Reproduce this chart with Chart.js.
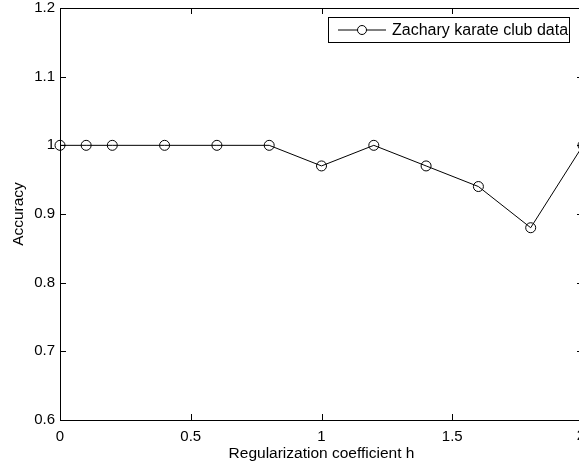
<!DOCTYPE html>
<html lang="en">
<head>
  <meta charset="UTF-8" />
  <title>Accuracy vs regularization coefficient</title>
  <script src="https://cdn.jsdelivr.net/npm/chart.js"></script>
  <style>
    html, body { margin: 0; padding: 0; background: #fff; overflow: hidden; }
    #wrap { width: 579px; height: 468px; overflow: hidden; position: relative; }
    #plot { position: absolute; left: 0; top: 0; }
  </style>
</head>
<body>
<div id="wrap">
  <canvas id="plot" width="590" height="468"></canvas>
</div>
<script>
  // data
  const hValues = [0, 0.1, 0.2, 0.4, 0.6, 0.8, 1.0, 1.2, 1.4, 1.6, 1.8, 2.0];
  const accuracy = [1, 1, 1, 1, 1, 1, 0.97, 1, 0.97, 0.94, 0.88, 1];
  const xTicks = [0, 0.5, 1, 1.5, 2];
  const yTicks = [0.6, 0.7, 0.8, 0.9, 1, 1.1, 1.2];
  const seriesName = "Zachary karate club data";

  const FONT = "'Liberation Sans', Arial, Helvetica, sans-serif";

  // box + inward ticks + legend, MATLAB style
  const matlabFrame = {
    id: "matlabFrame",
    afterDraw(chart) {
      const { ctx, chartArea: a, scales } = chart;
      const x = scales.x, y = scales.y;
      const tl = 6;
      ctx.save();
      ctx.strokeStyle = "#000";
      ctx.lineWidth = 1;
      ctx.beginPath();
      ctx.rect(Math.round(a.left) + 0.5, Math.round(a.top) + 0.5,
               Math.round(a.right - a.left), Math.round(a.bottom - a.top));
      xTicks.forEach(v => {
        const px = Math.round(x.getPixelForValue(v)) + 0.5;
        ctx.moveTo(px, a.bottom); ctx.lineTo(px, a.bottom - tl);
        ctx.moveTo(px, a.top); ctx.lineTo(px, a.top + tl);
      });
      yTicks.forEach(v => {
        const py = Math.round(y.getPixelForValue(v)) + 0.5;
        ctx.moveTo(a.left, py); ctx.lineTo(a.left + tl, py);
        ctx.moveTo(a.right, py); ctx.lineTo(a.right - tl, py);
      });
      ctx.stroke();

      // last x label sits on the cropped right edge
      ctx.fillStyle = "#000";
      ctx.font = "15px " + FONT;
      ctx.textAlign = "center";
      ctx.textBaseline = "top";
      ctx.fillText(String(xTicks[xTicks.length - 1]), x.getPixelForValue(xTicks[xTicks.length - 1]) - 2, a.bottom + 8);

      // legend box
      const lx = 328.5, ly = 17.5, lw = 241, lh = 25;
      ctx.fillStyle = "#fff";
      ctx.fillRect(lx, ly, lw, lh);
      ctx.strokeRect(lx, ly, lw, lh);
      const my = ly + lh / 2;
      ctx.beginPath();
      ctx.moveTo(338, my); ctx.lineTo(386, my);
      ctx.stroke();
      ctx.beginPath();
      ctx.arc(362, my, 4.5, 0, Math.PI * 2);
      ctx.fillStyle = "#fff";
      ctx.fill();
      ctx.stroke();
      ctx.fillStyle = "#000";
      ctx.font = "16px " + FONT;
      ctx.textBaseline = "middle";
      ctx.textAlign = "left";
      ctx.fillText(seriesName, 392, my + 1);
      ctx.restore();
    }
  };

  new Chart(document.getElementById("plot").getContext("2d"), {
    type: "line",
    data: {
      datasets: [{
        label: seriesName,
        data: hValues.map((h, i) => ({ x: h, y: accuracy[i] })),
        borderColor: "#000",
        borderWidth: 1,
        backgroundColor: "rgba(0,0,0,0)",
        pointStyle: "circle",
        pointRadius: 5,
        pointBorderWidth: 1,
        pointBorderColor: "#000",
        pointBackgroundColor: "rgba(0,0,0,0)",
        tension: 0,
        fill: false,
        clip: false
      }]
    },
    options: {
      responsive: false,
      animation: false,
      events: [],
      layout: { padding: { top: 8, right: 7, left: 0, bottom: 0 } },
      plugins: {
        legend: { display: false },
        tooltip: { enabled: false }
      },
      scales: {
        x: {
          type: "linear",
          min: 0, max: 2,
          afterBuildTicks: s => { s.ticks = xTicks.map(v => ({ value: v })); },
          afterFit: s => { s.height = 48; s.paddingLeft = 0; s.paddingRight = 0; },
          grid: { display: false, drawTicks: false },
          border: { display: false },
          ticks: {
            color: "#000",
            font: { family: FONT, size: 15 },
            padding: 8,
            maxRotation: 0,
            callback: v => (v === 2 ? "" : String(v))
          },
          title: {
            display: true,
            text: "Regularization coefficient h",
            color: "#000",
            font: { family: FONT, size: 15.5 },
            padding: { top: 0, bottom: 5 }
          }
        },
        y: {
          type: "linear",
          min: 0.6, max: 1.2,
          afterBuildTicks: s => { s.ticks = yTicks.map(v => ({ value: v })); },
          afterFit: s => { s.width = 60; s.paddingTop = 0; s.paddingBottom = 0; },
          grid: { display: false, drawTicks: false },
          border: { display: false },
          ticks: {
            color: "#000",
            font: { family: FONT, size: 15 },
            padding: 5,
            callback: v => String(Math.round(v * 10) / 10)
          },
          title: {
            display: true,
            text: "Accuracy",
            color: "#000",
            font: { family: FONT, size: 15.5 },
            padding: { top: 9, bottom: 0 }
          }
        }
      }
    },
    plugins: [matlabFrame]
  });
</script>
</body>
</html>
